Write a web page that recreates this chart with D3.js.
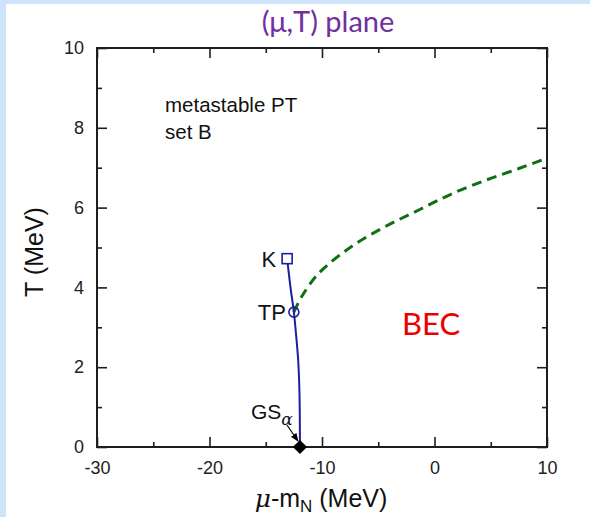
<!DOCTYPE html>
<html>
<head>
<meta charset="utf-8">
<script src="https://cdn.jsdelivr.net/npm/d3@7"></script>
<style>
  html, body { margin: 0; padding: 0; background: #ffffff; }
  svg { display: block; }
</style>
</head>
<body>
<svg id="chart" width="590" height="517"></svg>
<script>
// Axis ranges and tick values
const xDomain = [-30, 10];
const yDomain = [0, 10];
const xMajorTicks = [-30, -20, -10, 0, 10];
const xMinorTicks = [-25, -15, -5, 5];
const yMajorTicks = [0, 2, 4, 6, 8, 10];
const yMinorTicks = [1, 3, 5, 7, 9];

// Blue coexistence line: from K (top) down through TP to GS_alpha
const liquidGasMu = [-13.1, -12.8, -12.5, -12.3, -12.1, -12.0, -11.96];
const liquidGasT  = [4.72, 4.0, 3.38, 2.8, 2.1, 1.3, 0.0];

// Green dashed BEC boundary starting at TP
const becMu = [-12.5, -11.8, -10.3, -7.4, -4.4, -1.4, 1.5, 4.5, 7.5, 10.0];
const becT  = [3.38, 3.77, 4.35, 5.02, 5.52, 5.94, 6.34, 6.68, 6.98, 7.24];

// Special points
const pointK  = { mu: -13.1, T: 4.72 };
const pointTP = { mu: -12.5, T: 3.38 };
const pointGS = { mu: -11.96, T: 0.0 };

const svg = d3.select("#chart");
const W = 590, H = 517;

// Page background: light-blue frame on top and left
svg.append("rect").attr("x", 0).attr("y", 0).attr("width", W).attr("height", H).attr("fill", "#cfe4fb");
svg.append("rect").attr("x", 6).attr("y", 4).attr("width", W - 6).attr("height", H - 4).attr("fill", "#ffffff");

const plotLeft = 97, plotRight = 547, plotTop = 48, plotBottom = 447;
const x = d3.scaleLinear().domain(xDomain).range([plotLeft, plotRight]);
const y = d3.scaleLinear().domain(yDomain).range([plotBottom, plotTop]);

const axisColor = "#1e1e1e";
const tickFont = "'Liberation Sans', Arial, sans-serif";
const fmt = d => String(d);  // plain hyphen for negatives

// Ticks drawn inward on all four sides
function drawAxis(axisGen, tx, ty, major, minor, showLabels) {
  const gMaj = svg.append("g").attr("transform", `translate(${tx},${ty})`)
    .call(axisGen.tickValues(major).tickFormat(fmt).tickSizeInner(-10).tickSizeOuter(0).tickPadding(12));
  const gMin = svg.append("g").attr("transform", `translate(${tx},${ty})`)
    .call(axisGen.tickValues(minor).tickSizeInner(-5).tickSizeOuter(0).tickFormat(""));
  [gMaj, gMin].forEach(g => {
    g.select(".domain").remove();
    g.selectAll(".tick line").attr("stroke", axisColor).attr("stroke-width", 1.6);
  });
  gMaj.selectAll("text")
    .attr("font-family", tickFont).attr("font-size", 18).attr("fill", "#222")
    .style("display", showLabels ? null : "none");
  return gMaj;
}

const gx = drawAxis(d3.axisBottom(x), 0, plotBottom, xMajorTicks, xMinorTicks, true);
gx.selectAll("text").attr("dy", "0.85em");
drawAxis(d3.axisTop(x), 0, plotTop, xMajorTicks, xMinorTicks, false);
const gy = drawAxis(d3.axisLeft(y), plotLeft, 0, yMajorTicks, yMinorTicks, true);
gy.selectAll("text").attr("dx", "-1px");
drawAxis(d3.axisRight(y), plotRight, 0, yMajorTicks, yMinorTicks, false);

// Frame
svg.append("rect")
  .attr("x", plotLeft).attr("y", plotTop).attr("width", plotRight - plotLeft).attr("height", plotBottom - plotTop)
  .attr("fill", "none").attr("stroke", axisColor).attr("stroke-width", 2);

// Green dashed BEC line
const becData = becMu.map((m, i) => [m, becT[i]]);
svg.append("path")
  .datum(becData)
  .attr("d", d3.line().x(d => x(d[0])).y(d => y(d[1])).curve(d3.curveCatmullRom.alpha(0.5)))
  .attr("fill", "none").attr("stroke", "#0f7010").attr("stroke-width", 3)
  .attr("stroke-dasharray", "10,6");

// Blue line
const lgData = liquidGasMu.map((m, i) => [m, liquidGasT[i]]);
svg.append("path")
  .datum(lgData)
  .attr("d", d3.line().x(d => x(d[0])).y(d => y(d[1])).curve(d3.curveCatmullRom))
  .attr("fill", "none").attr("stroke", "#1c1ea0").attr("stroke-width", 2);

// K: open square
svg.append("rect")
  .attr("x", x(pointK.mu) - 5).attr("y", y(pointK.T) - 5)
  .attr("width", 10).attr("height", 10)
  .attr("fill", "#ffffff").attr("stroke", "#1c1ea0").attr("stroke-width", 1.6);

// TP: open circle
svg.append("circle")
  .attr("cx", x(pointTP.mu)).attr("cy", y(pointTP.T)).attr("r", 5)
  .attr("fill", "none").attr("stroke", "#1c1ea0").attr("stroke-width", 1.6);

// GS_alpha: filled diamond
svg.append("path")
  .attr("transform", `translate(${x(pointGS.mu)},${y(pointGS.T)}) rotate(45)`)
  .attr("d", "M-5,-5H5V5H-5Z")
  .attr("fill", "#000");

// Arrow to GS
const defs = svg.append("defs");
defs.append("marker").attr("id", "arrow").attr("viewBox", "0 0 10 10")
  .attr("refX", 9).attr("refY", 5).attr("markerWidth", 7).attr("markerHeight", 7)
  .attr("orient", "auto")
  .append("path").attr("d", "M0,1L10,5L0,9Z").attr("fill", "#000");
svg.append("line")
  .attr("x1", x(pointGS.mu) - 13).attr("y1", y(pointGS.T) - 22)
  .attr("x2", x(pointGS.mu) - 2).attr("y2", y(pointGS.T) - 6)
  .attr("stroke", "#000").attr("stroke-width", 1.2).attr("marker-end", "url(#arrow)");

// Point labels
const labelFont = "'Liberation Sans', Arial, sans-serif";
svg.append("text").attr("x", x(pointK.mu) - 11).attr("y", y(pointK.T) + 8)
  .attr("text-anchor", "end").attr("font-family", labelFont).attr("font-size", 22).attr("fill", "#111").text("K");
svg.append("text").attr("x", x(pointTP.mu) - 8).attr("y", y(pointTP.T) + 8)
  .attr("text-anchor", "end").attr("font-family", labelFont).attr("font-size", 22).attr("fill", "#111").text("TP");
const gsLabel = svg.append("text").attr("x", 251).attr("y", 419)
  .attr("font-family", labelFont).attr("font-size", 21).attr("fill", "#111");
gsLabel.append("tspan").text("GS");
gsLabel.append("tspan").attr("dy", 6).attr("font-size", 17).attr("font-style", "italic")
  .attr("font-family", "'DejaVu Serif', serif").text("α");

// Annotation
svg.append("text").attr("x", 165).attr("y", 112)
  .attr("font-family", labelFont).attr("font-size", 20.5).attr("fill", "#111").text("metastable PT");
svg.append("text").attr("x", 165).attr("y", 139)
  .attr("font-family", labelFont).attr("font-size", 20.5).attr("fill", "#111").text("set B");

// Region label
svg.append("text").attr("x", 402).attr("y", 335)
  .attr("font-family", "Lato, 'Open Sans', sans-serif").attr("font-size", 31).attr("fill", "#ee0000").text("BEC");

// Title
svg.append("text").attr("x", 328).attr("y", 32).attr("text-anchor", "middle")
  .attr("font-family", "Lato, 'Open Sans', sans-serif").attr("font-size", 29).attr("fill", "#7030a0")
  .text("(μ,T) plane");

// Axis titles
const xt = svg.append("text").attr("x", 321).attr("y", 507).attr("text-anchor", "middle")
  .attr("font-family", labelFont).attr("font-size", 25).attr("fill", "#111");
xt.append("tspan").attr("font-style", "italic").attr("font-family", "'DejaVu Serif', serif").text("μ");
xt.append("tspan").text("-m");
xt.append("tspan").attr("dy", 5).attr("font-size", 17).text("N");
xt.append("tspan").attr("dy", -5).text(" (MeV)");

svg.append("text")
  .attr("transform", "translate(43,252) rotate(-90)")
  .attr("text-anchor", "middle")
  .attr("font-family", labelFont).attr("font-size", 25).attr("fill", "#111")
  .text("T (MeV)");
</script>
</body>
</html>
